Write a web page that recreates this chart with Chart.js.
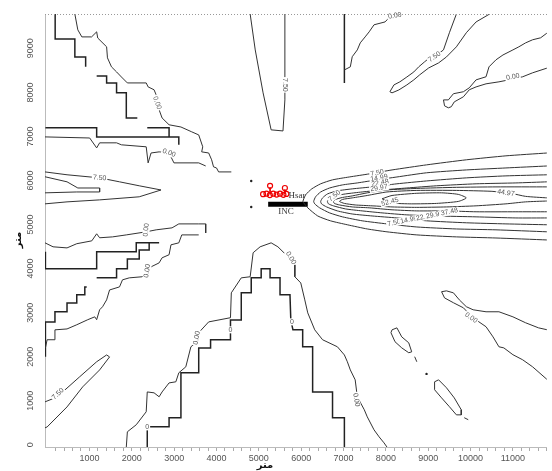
<!DOCTYPE html>
<html>
<head>
<meta charset="utf-8">
<script src="https://cdn.jsdelivr.net/npm/chart.js@4"></script>
<style>html,body{margin:0;padding:0;background:#fff}</style>
</head>
<body>
<canvas id="c" width="552" height="471"></canvas>
<script>
// tick labels (metres)
const xTickLabels = [1000, 2000, 3000, 4000, 5000, 6000, 7000, 8000, 9000, 10000, 11000];
const yTickLabels = [0, 1000, 2000, 3000, 4000, 5000, 6000, 7000, 8000, 9000];
const axisTitle = 'متر';

// contour lines, [x, y] in metres
const c000TopLeft = [[655,9780],[725,9420],[820,9260],[1050,9260],[1170,9375],[1195,9235],[1405,9035],[1425,8785],[1520,8580],[1640,8465],[1755,8350],[1895,8215],[2340,8215],[2385,8125],[2525,8060],[2575,7945],[2645,7605],[2715,7420],[2880,7265],[3160,7215],[3415,7105],[3580,7035],[3675,6765],[3650,6650],[3815,6625],[3885,6470],[3930,6310],[4000,6285],[4050,6195],[4350,6195]];
const c000LeftMid = [[-50,6990],[1005,6965],[1170,6740],[1240,6855],[1640,6855],[1755,6810],[2340,6765],[2385,6400],[2455,6625],[2645,6650],[2880,6625],[2995,6400],[3580,6400],[3745,6330]];
const c750LeftLens = [[-50,6195],[470,6130],[1240,6060],[1710,5970],[2175,5880],[2690,5785],[2175,5630],[1240,5560],[470,5515],[-50,5470]];
const c1499LeftSpike = [[-50,6085],[470,5970],[725,5830],[1240,5830],[1240,5740],[700,5740],[-50,5720]];
const c000LowLeft = [[-50,4585],[140,4495],[470,4470],[700,4565],[1055,4630],[1170,4790],[1240,4700],[1545,4720],[1870,4765],[2340,4835],[2575,4880],[2950,4925],[3110,5015],[3580,5015],[3745,5015],[3745,4810]];
const c000LowLeft2 = [[-40,2200],[0,2385],[185,2385],[185,2610],[470,2630],[700,2725],[960,2840],[1125,2905],[1170,2840],[1240,3065],[1310,3135],[1405,3290],[1475,3515],[1710,3585],[1780,3745],[1940,3790],[2245,3815],[2365,3905],[2455,4040],[2645,4130],[2715,4245],[2880,4315],[2925,4540],[3110,4585],[3180,4765],[3580,4765]];
const c750LowLeft = [[-50,975],[185,1065],[420,1245],[770,1545],[1170,1885],[1405,2040],[1475,1995],[1240,1700],[840,1315],[470,860],[0,405],[-50,385]];
const c000Bottom = [[1870,-50],[1895,295],[2105,455],[2340,750],[2365,1200],[2525,1180],[2645,1090],[2715,1200],[2880,1405],[3040,1430],[3110,1635],[3275,1770],[3395,2225],[3510,2315],[3580,2545],[3815,2790],[4330,2885],[4350,3450],[4585,3790],[4795,3815],[4865,4360],[5030,4495],[5290,4585],[5450,4495],[5640,4315],[5850,4085],[5850,3815],[5990,3675],[6085,3290],[6155,2995],[6320,2610],[6505,2385],[6855,2225],[7020,2040],[7090,1885],[7160,1700],[7275,1475],[7325,1090],[7490,795],[7560,635],[7720,340],[7840,180],[7955,45],[8025,-50]];
const c750TopU = [[4795,9780],[4915,8965],[5100,7990],[5290,7150],[5570,7125],[5615,7830],[5615,9780]];
const c000TopMid = [[7020,8510],[7160,8580],[7205,8810],[7325,8965],[7395,9125],[7510,9260],[7605,9375],[7720,9535],[7980,9600],[8095,9715],[8165,9780]];
const c750Finger = [[9665,9780],[9500,9355],[9360,8965],[9150,8810],[9030,8785],[8915,8695],[8775,8580],[8660,8465],[8495,8350],[8330,8240],[8190,8170],[8095,8015],[8145,7990],[8305,8055],[8495,8170],[8660,8285],[8800,8400],[9010,8555],[9245,8670],[9430,8805],[9665,9035],[9900,9355],[10130,9600],[10415,9760],[10450,9780]];
const c000TopRight = [[11815,9355],[11655,9240],[11465,9195],[11300,9125],[11140,9035],[11000,8965],[10765,8850],[10600,8740],[10435,8580],[10365,8355],[10130,8285],[9970,8105],[9830,8015],[9595,7970],[9475,7830],[9360,7830],[9385,7695],[9475,7650],[9545,7675],[9615,7785],[9830,7900],[9970,8060],[10130,8125],[10365,8195],[10670,8240],[10905,8285],[11230,8355],[11465,8445],[11815,8555]];
const c000RightLow = [[11815,2610],[11605,2655],[11300,2770],[11000,2905],[10670,3020],[10365,3020],[10060,3065],[9900,3135],[9735,3290],[9595,3450],[9430,3495],[9315,3475],[9385,3335],[9595,3225],[9830,3110],[9945,2995],[10130,2835],[10365,2680],[10530,2450],[10670,2225],[10785,2200],[11000,2045],[11230,1930],[11465,1770],[11815,1475]];
const islandA = [[8145,2610],[8260,2655],[8375,2450],[8540,2315],[8610,2110],[8540,2090],[8375,2200],[8215,2340],[8120,2545],[8145,2610]];
const islandAMark = [[8680,2000],[8730,1885]];
const islandB = [[9150,1430],[9245,1475],[9430,1295],[9615,1065],[9780,795],[9780,680],[9665,680],[9500,865],[9315,1065],[9150,1250],[9150,1430]];
const islandBMark = [[9850,615],[9945,570]];
const islandDot = [[8960,1610]];

// step lines (zero level)
const stepTop1 = [[190,9780],[190,9215],[655,9215],[655,8805],[910,8805],[910,8580]];
const stepTop2 = [[1170,8375],[1405,8375],[1405,8215],[1640,8215],[1640,7990],[1870,7990],[1870,7420],[2130,7420]];
const stepMid1 = [[-40,7195],[1170,7195],[1170,6990],[3110,6990],[3110,6810]];
const stepMid2 = [[2365,7195],[2880,7195],[2880,6990]];
const stepLow1 = [[-40,4380],[-40,3995],[1170,3995],[1170,4380],[2105,4380],[2105,4585],[2645,4585]];
const stepLow2 = [[1170,3790],[1640,3790],[1640,3995],[1895,3995],[1895,4220],[2175,4220],[2175,4425],[2410,4425],[2410,4605]];
const stepLow3 = [[-40,2000],[-40,2790],[185,2790],[185,3020],[470,3020],[470,3220],[700,3220],[700,3405],[890,3405],[890,3585],[935,3585]];
const stepBottom = [[2365,-50],[2365,410],[2880,410],[2880,615],[3160,615],[3160,1635],[3580,1635],[3580,2200],[3860,2200],[3860,2385],[4330,2385],[4330,2835],[4585,2835],[4585,3450],[4820,3450],[4820,3790],[5055,3790],[5055,3995],[5265,3995],[5265,3790],[5500,3790],[5500,3405],[5735,3405],[5755,2835],[5805,2610],[6035,2610],[6035,2225],[6270,2225],[6270,1200],[6740,1200],[6740,615],[7020,615],[7020,-50]];
const stepTopVert = [[7020,9780],[7020,8215]];

// plume contours
const plume750 = [[11815,4650],[10600,4695],[9665,4720],[8730,4765],[8025,4835],[7560,4900],[7090,4995],[6690,5085],[6390,5195],[6155,5380],[6060,5490],[6040,5525],[6105,5675],[6250,5810],[6460,5925],[6740,6015],[7135,6080],[7605,6150],[8145,6240],[8960,6355],[9900,6470],[10835,6560],[11815,6625]];
const plume1499 = [[11815,4835],[10600,4880],[9665,4900],[8730,4945],[8025,5015],[7440,5085],[6975,5175],[6670,5265],[6435,5380],[6320,5470],[6295,5525],[6340,5630],[6460,5740],[6670,5830],[6975,5900],[7325,5945],[7790,6015],[8260,6080],[8960,6175],[9900,6240],[10835,6285],[11815,6330]];
const plume2248 = [[11815,4995],[10835,5015],[9900,5040],[8960,5085],[8260,5150],[7675,5195],[7205,5240],[6855,5310],[6600,5400],[6480,5470],[6460,5525],[6505,5605],[6620,5695],[6855,5765],[7205,5810],[7675,5855],[8260,5925],[8960,5990],[9900,6060],[10835,6105],[11815,6130]];
const plume2997 = [[11815,5150],[11070,5150],[10130,5175],[9195,5195],[8495,5220],[7910,5265],[7440,5310],[7045,5355],[6760,5425],[6645,5470],[6620,5525],[6670,5585],[6785,5650],[7045,5695],[7440,5740],[7910,5785],[8495,5830],[9195,5880],[10130,5925],[11070,5945],[11815,5970]];
const plume3746 = [[11815,5290],[11070,5290],[10130,5290],[9430,5310],[8730,5310],[8145,5335],[7605,5380],[7205,5400],[6905,5445],[6785,5480],[6760,5525],[6810,5570],[6975,5615],[7205,5650],[7560,5720],[8025,5785],[8730,5820],[9665,5845],[10600,5855],[11815,5855]];
const plume4497 = [[11815,5535],[11300,5515],[10835,5470],[10130,5425],[9430,5400],[8730,5390],[8145,5400],[7675,5425],[7275,5445],[7020,5480],[6905,5525],[6975,5570],[7205,5605],[7560,5660],[8025,5740],[8730,5775],[9665,5775],[10485,5755],[10950,5710],[11300,5640],[11815,5605]];
const plume5245 = [[7910,5585],[8145,5660],[8730,5710],[9315,5720],[9710,5685],[9900,5605],[9710,5525],[9195,5480],[8610,5470],[8145,5490],[7910,5585]];

// source and receptor marks
const receptorDots = [[4820,5990],[4820,5400]];
const redRings = [[5265,5880],[5615,5830],[5100,5690],[5180,5700],[5260,5670],[5340,5700],[5420,5680],[5500,5700],[5580,5675],[5650,5695]];
const redStem1 = [[5265,5845],[5265,5700]];
const redStem2 = [[5615,5795],[5615,5700]];
const sourceBar = [[5220,5460],[6155,5460]];

// contour labels: text, x, y, angle (deg)
const contourLabels = [
  ['0.00', 2597, 7762, 70], ['0.00', 2878, 6627, 20], ['7.50', 1240, 6059, 5],
  ['0.00', 2340, 4879, -85], ['0.00', 2363, 3948, -80], ['7.50', 257, 1156, -45],
  ['0.00', 3533, 2427, -80], ['0', 2363, 407, 0], ['0', 4329, 2610, 0], ['0', 5780, 2791, 0],
  ['0.00', 5756, 4243, 60], ['0.00', 7301, 1020, 80], ['7.50', 5616, 8171, 90],
  ['0.00', 8213, 9740, -10], ['7.50', 9149, 8808, -35], ['0.00', 10998, 8352, -10],
  ['0.00', 10015, 2883, 35], ['7.50', 6786, 5651, -40],
  ['7.50', 7792, 6173, -10], ['14.99', 7839, 6059, -10], ['22.48', 7862, 5946, -10], ['29.97', 7839, 5832, -10],
  ['52.45', 8096, 5515, -15],
  ['7.50', 8190, 5038, -12], ['14.99', 8541, 5106, -12], ['22.48', 8915, 5174, -12], ['29.97', 9149, 5220, -12], ['37.48', 9500, 5288, -12],
  ['44.97', 10834, 5719, 8]
];
const markTexts = [['Hsar', 5900, 5660], ['INC', 5640, 5290]];

const pts = a => a.map(p => ({ x: p[0], y: p[1] }));
const line = (a, w, col, t) => ({ data: pts(a), borderColor: col, borderWidth: w, pointRadius: 0, tension: t, fill: false });

const contours = [c000TopLeft, c000LeftMid, c750LeftLens, c1499LeftSpike, c000LowLeft, c000LowLeft2, c750LowLeft,
  c000Bottom, c750TopU, c000TopMid, c750Finger, c000TopRight, c000RightLow, islandA, islandAMark, islandB, islandBMark];
const steps = [stepTop1, stepTop2, stepMid1, stepMid2, stepLow1, stepLow2, stepLow3, stepBottom, stepTopVert];
const plume = [plume750, plume1499, plume2248, plume2997, plume3746, plume4497, plume5245];

const datasets = [];
contours.forEach(a => datasets.push(line(a, 1, '#333', 0)));
steps.forEach(a => datasets.push(line(a, 1.5, '#222', 0)));
plume.forEach(a => datasets.push(line(a, 1, '#333', 0.2)));
datasets.push(line(sourceBar, 5, '#000', 0));
datasets.push(line(redStem1, 1, '#e00', 0));
datasets.push(line(redStem2, 1, '#e00', 0));
datasets.push({ data: pts(redRings), showLine: false, pointRadius: 2.5, borderColor: '#e00', backgroundColor: 'rgba(0,0,0,0)', borderWidth: 1.2 });
datasets.push({ data: pts(receptorDots.concat(islandDot)), showLine: false, pointRadius: 1.2, borderColor: '#222', backgroundColor: '#222', borderWidth: 0 });

const only200 = s => { s.ticks = s.ticks.filter(t => Math.round(t.value) % 200 === 0); };

const decor = {
  id: 'decor',
  afterDatasetsDraw(chart) {
    const { ctx, scales: { x, y } } = chart;
    ctx.save();
    // contour labels
    ctx.font = '7px "Liberation Sans"';
    ctx.textAlign = 'center';
    ctx.textBaseline = 'middle';
    contourLabels.forEach(([t, vx, vy, ang]) => {
      const px = x.getPixelForValue(vx), py = y.getPixelForValue(vy);
      ctx.save();
      ctx.translate(px, py);
      ctx.rotate(ang * Math.PI / 180);
      const w = ctx.measureText(t).width;
      ctx.fillStyle = '#fff';
      ctx.fillRect(-w / 2 - 1, -3.5, w + 2, 7);
      ctx.fillStyle = '#555';
      ctx.fillText(t, 0, 0);
      ctx.restore();
    });
    ctx.font = '9px "Liberation Serif"';
    ctx.fillStyle = '#333';
    markTexts.forEach(([t, vx, vy]) => ctx.fillText(t, x.getPixelForValue(vx), y.getPixelForValue(vy)));
    ctx.restore();
  },
  afterDraw(chart) {
    const { ctx, chartArea: a, scales: { y } } = chart;
    ctx.save();
    // dotted top frame
    ctx.strokeStyle = '#999';
    ctx.lineWidth = 1;
    ctx.setLineDash([1, 2]);
    ctx.beginPath();
    ctx.moveTo(a.left, a.top + 0.5);
    ctx.lineTo(a.right + 1, a.top + 0.5);
    ctx.stroke();
    ctx.setLineDash([]);
    // rotated y tick labels
    ctx.font = '9px "Liberation Sans"';
    ctx.fillStyle = '#555';
    ctx.textAlign = 'center';
    ctx.textBaseline = 'middle';
    yTickLabels.forEach(v => {
      ctx.save();
      ctx.translate(31, y.getPixelForValue(v));
      ctx.rotate(-Math.PI / 2);
      ctx.fillText(String(v), 0, 0);
      ctx.restore();
    });
    // axis titles
    ctx.font = 'bold 10px "DejaVu Sans"';
    ctx.fillStyle = '#111';
    ctx.fillText(axisTitle, 265, 465);
    ctx.save();
    ctx.translate(18, 240);
    ctx.rotate(-Math.PI / 2);
    ctx.fillText(axisTitle, 0, 0);
    ctx.restore();
    ctx.restore();
  }
};

new Chart(document.getElementById('c'), {
  type: 'line',
  data: { datasets },
  plugins: [decor],
  options: {
    responsive: false,
    animation: false,
    devicePixelRatio: 1,
    layout: { padding: { top: 14, right: 1, left: 0, bottom: 0 } },
    plugins: { legend: { display: false }, tooltip: { enabled: false } },
    scales: {
      x: {
        type: 'linear', min: -50, max: 11800,
        afterBuildTicks: only200,
        afterFit: s => { s.height = 24; },
        ticks: {
          stepSize: 200, autoSkip: false, maxRotation: 0, minRotation: 0, padding: 2,
          color: '#555', font: { size: 9, family: 'Liberation Sans' },
          callback: v => xTickLabels.includes(v) ? String(v) : ''
        },
        grid: { drawOnChartArea: false, drawTicks: true, tickLength: 4, color: '#aaa' },
        border: { color: '#bbb' }
      },
      y: {
        type: 'linear', min: -50, max: 9780,
        afterBuildTicks: only200,
        afterFit: s => { s.width = 45; },
        ticks: { stepSize: 200, autoSkip: false, callback: () => '' },
        grid: { drawOnChartArea: false, drawTicks: true, tickLength: 4, color: '#aaa' },
        border: { color: '#bbb' }
      }
    }
  }
});
</script>
</body>
</html>
